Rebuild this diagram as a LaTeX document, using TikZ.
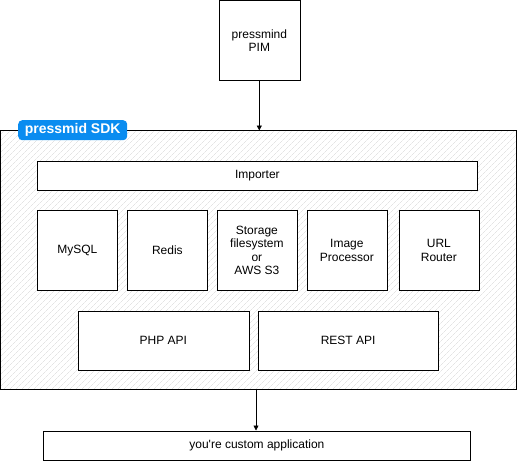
\documentclass[tikz,border=0pt]{standalone}
\usepackage{fontspec}
\setmainfont{Liberation Sans}
\usetikzlibrary{patterns.meta,arrows.meta}
\definecolor{tabblue}{HTML}{0A8CF0}
\begin{document}
\begin{tikzpicture}[x=1pt,y=-1pt,
  box/.style={draw=black,fill=white,line width=0.8pt,align=center,font=\fontsize{12}{13.5}\selectfont,inner sep=0pt},
  arr/.style={-{Triangle[length=5pt,width=5pt]},line width=0.8pt}]
\useasboundingbox (0,0) rectangle (518,461);
% SDK frame
\node[draw=black,line width=0.8pt,pattern={Lines[angle=45,distance=4pt,line width=0.4pt]},pattern color=black!16,minimum width=516pt,minimum height=259pt,anchor=north west,inner sep=0pt] (sdk) at (0.5,130.5) {};
\node[fill=tabblue,rounded corners=4pt,text=white,font=\bfseries\fontsize{14}{16}\selectfont,minimum width=109pt,minimum height=20pt,inner sep=0pt,anchor=north west] (tab) at (18,120) {pressmid SDK};
% PIM
\node[box,minimum width=81pt,minimum height=80pt,anchor=north west] (pim) at (218.5,0) {pressmind\\PIM};
\node[box,minimum width=440pt,minimum height=29pt,anchor=north west] (imp) at (37,161) {Importer};
\node[box,minimum width=80pt,minimum height=80pt,anchor=north west] (mysql) at (37,210) {MySQL};
\node[box,minimum width=80pt,minimum height=80pt,anchor=north west] (redis) at (127,210) {Redis};
\node[box,minimum width=80pt,minimum height=80pt,anchor=north west] (stor) at (216.5,210) {Storage\\filesystem\\or\\AWS S3};
\node[box,minimum width=80pt,minimum height=80pt,anchor=north west] (img) at (306.5,210) {Image\\Processor};
\node[box,minimum width=80pt,minimum height=80pt,anchor=north west] (url) at (398.5,210) {URL\\Router};
\node[box,minimum width=171pt,minimum height=59.5pt,anchor=north west] (php) at (77.5,310.5) {PHP API};
\node[box,minimum width=180.5pt,minimum height=59.5pt,anchor=north west] (rest) at (257.5,310.5) {REST API};
\node[box,minimum width=427pt,minimum height=29.5pt,anchor=north west] (app) at (43,430.5) {you\textquotesingle re custom application};
\coordinate (pimb) at (259.3,80);
\coordinate (sdkt) at (259.3,130.5);
\draw[arr] (pim.south -| pimb) -- (sdk.north -| sdkt);
\coordinate (x2) at (256,0);
\draw[arr] (sdk.south -| x2) -- (app.north -| x2);
\end{tikzpicture}
\end{document}
